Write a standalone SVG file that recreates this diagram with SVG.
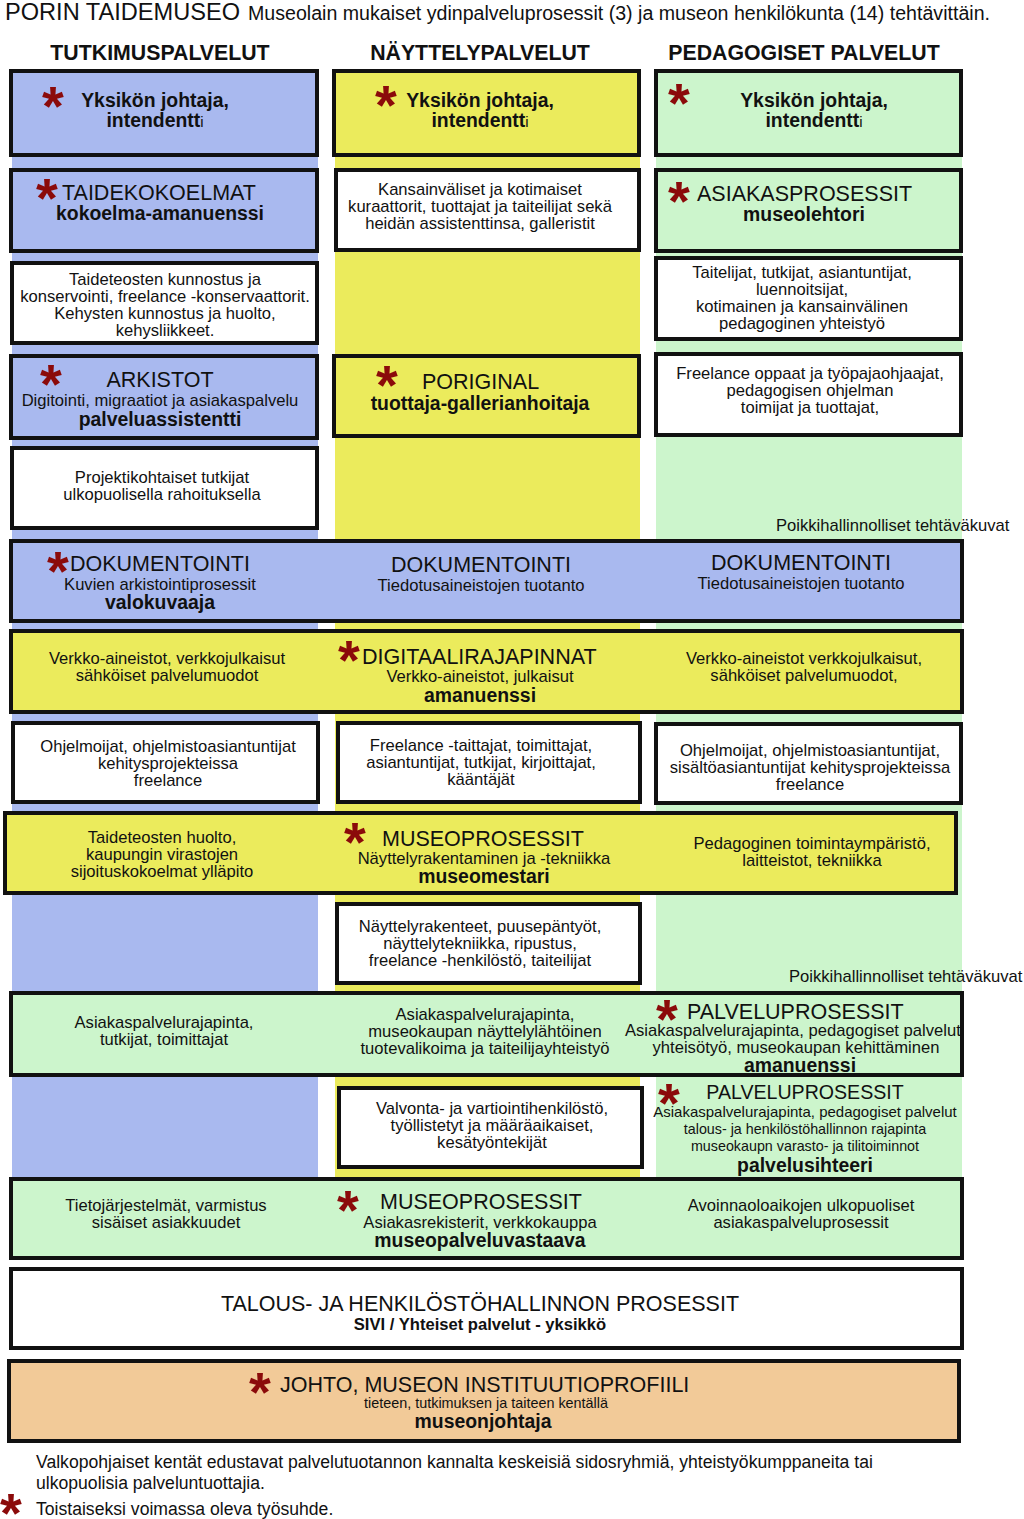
<svg xmlns="http://www.w3.org/2000/svg" width="1024" height="1519" viewBox="0 0 1024 1519">
<style>
text{font-family:"Liberation Sans",Arial,sans-serif;fill:#111}
.t{font-size:16.6px;text-anchor:middle}
.h{font-size:21.5px}
.hc{font-size:21.5px;text-anchor:middle}
.b{font-size:19.4px;font-weight:bold;text-anchor:middle}
.col{font-size:21.3px;font-weight:bold;text-anchor:middle}
.s{font-size:56px;font-weight:bold;fill:#8b0a0a;text-anchor:middle}
.box{stroke:#111;stroke-width:4}
.bl{fill:#a9b9ef}.ye{fill:#ebeb5c}.gr{fill:#ccf5cc}.wh{fill:#fff}.or{fill:#f2ca98}
</style>
<rect width="1024" height="1519" fill="#fff"/>
<g id="title">
<text x="5" y="20" style="font-size:24px" textLength="235" lengthAdjust="spacingAndGlyphs">PORIN TAIDEMUSEO</text>
<text x="248" y="20" style="font-size:19.5px" textLength="742" lengthAdjust="spacingAndGlyphs">Museolain mukaiset ydinpalveluprosessit (3) ja museon henkilökunta (14) tehtävittäin.</text>
</g>
<g id="columns">
<rect x="12" y="70" width="306" height="1108" class="bl"/>
<rect x="335" y="70" width="305" height="1108" class="ye"/>
<rect x="656" y="70" width="306" height="1108" class="gr"/>
<text x="160" y="60" class="col">TUTKIMUSPALVELUT</text>
<text x="480" y="60" class="col">NÄYTTELYPALVELUT</text>
<text x="804" y="60" class="col">PEDAGOGISET PALVELUT</text>
</g>
<g id="connectors"></g>
<g id="n-tut-johtaja">
<rect x="11" y="71" width="306" height="84" class="box bl"/>
<text x="53" y="125" class="s">*</text>
<text x="155" y="107" class="b">Yksikön johtaja,</text>
<text x="155" y="127" class="b">intendentt<tspan style="font-size:15px;font-weight:normal">i</tspan></text>
</g>
<g id="n-nay-johtaja">
<rect x="334" y="71" width="305" height="84" class="box ye"/>
<text x="386" y="124" class="s">*</text>
<text x="480" y="107" class="b">Yksikön johtaja,</text>
<text x="480" y="127" class="b">intendentt<tspan style="font-size:15px;font-weight:normal">i</tspan></text>
</g>
<g id="n-ped-johtaja">
<rect x="656" y="71" width="305" height="84" class="box gr"/>
<text x="679" y="122" class="s">*</text>
<text x="814" y="107" class="b">Yksikön johtaja,</text>
<text x="814" y="127" class="b">intendentt<tspan style="font-size:15px;font-weight:normal">i</tspan></text>
</g>
<g id="n-taidekokoelmat">
<rect x="11" y="170" width="306" height="81" class="box bl"/>
<text x="47" y="217" class="s">*</text>
<text x="62" y="200" class="h">TAIDEKOKOELMAT</text>
<text x="160" y="220" class="b">kokoelma-amanuenssi</text>
</g>
<g id="n-kuraattorit">
<rect x="336" y="170" width="303" height="80" class="box wh"/>
<text x="480" y="195" class="t">Kansainväliset ja kotimaiset</text>
<text x="480" y="212" class="t">kuraattorit, tuottajat ja taiteilijat sekä</text>
<text x="480" y="229" class="t">heidän assistenttinsa, galleristit</text>
</g>
<g id="n-asiakasprosessit">
<rect x="656" y="170" width="305" height="81" class="box gr"/>
<text x="679" y="220" class="s">*</text>
<text x="697" y="201" class="h">ASIAKASPROSESSIT</text>
<text x="804" y="221" class="b">museolehtori</text>
</g>
<g id="n-konservointi">
<rect x="12" y="263" width="305" height="80" class="box wh"/>
<text x="165" y="285" class="t">Taideteosten kunnostus ja</text>
<text x="165" y="302" class="t">konservointi, freelance -konservaattorit.</text>
<text x="165" y="319" class="t">Kehysten kunnostus ja huolto,</text>
<text x="165" y="336" class="t">kehysliikkeet.</text>
</g>
<g id="n-taitelijat">
<rect x="656" y="258" width="305" height="81" class="box wh"/>
<text x="802" y="278" class="t">Taitelijat, tutkijat, asiantuntijat,</text>
<text x="802" y="295" class="t">luennoitsijat,</text>
<text x="802" y="312" class="t">kotimainen ja kansainvälinen</text>
<text x="802" y="329" class="t">pedagoginen yhteistyö</text>
</g>
<g id="n-arkistot">
<rect x="11" y="356" width="306" height="82" class="box bl"/>
<text x="51" y="403" class="s">*</text>
<text x="160" y="387" class="hc">ARKISTOT</text>
<text x="160" y="406" class="t">Digitointi, migraatiot ja asiakaspalvelu</text>
<text x="160" y="426" class="b">palveluassistentti</text>
</g>
<g id="n-poriginal">
<rect x="334" y="356" width="305" height="80" class="box ye"/>
<text x="387" y="404" class="s">*</text>
<text x="422" y="389" class="h">PORIGINAL</text>
<text x="480" y="410" class="b">tuottaja-gallerianhoitaja</text>
</g>
<g id="n-freelance-oppaat">
<rect x="656" y="354" width="305" height="81" class="box wh"/>
<text x="810" y="379" class="t">Freelance oppaat ja työpajaohjaajat,</text>
<text x="810" y="396" class="t">pedagogisen ohjelman</text>
<text x="810" y="413" class="t">toimijat ja tuottajat,</text>
</g>
<g id="n-projektitutkijat">
<rect x="12" y="448" width="305" height="80" class="box wh"/>
<text x="162" y="483" class="t">Projektikohtaiset tutkijat</text>
<text x="162" y="500" class="t">ulkopuolisella rahoituksella</text>
</g>
<text x="776" y="531" style="font-size:16.6px">Poikkihallinnolliset tehtäväkuvat</text>
<g id="n-dokumentointi">
<rect x="11" y="541" width="951" height="80" class="box bl"/>
<text x="58" y="590" class="s">*</text>
<text x="70" y="571" class="h">DOKUMENTOINTI</text>
<text x="160" y="590" class="t">Kuvien arkistointiprosessit</text>
<text x="160" y="609" class="b">valokuvaaja</text>
<text x="481" y="572" class="hc">DOKUMENTOINTI</text>
<text x="481" y="591" class="t">Tiedotusaineistojen tuotanto</text>
<text x="801" y="570" class="hc">DOKUMENTOINTI</text>
<text x="801" y="589" class="t">Tiedotusaineistojen tuotanto</text>
</g>
<g id="n-digitaalirajapinnat">
<rect x="11" y="631" width="951" height="81" class="box ye"/>
<text x="167" y="664" class="t">Verkko-aineistot, verkkojulkaisut</text>
<text x="167" y="681" class="t">sähköiset palvelumuodot</text>
<text x="349" y="679" class="s">*</text>
<text x="362" y="664" class="h">DIGITAALIRAJAPINNAT</text>
<text x="480" y="682" class="t">Verkko-aineistot, julkaisut</text>
<text x="480" y="702" class="b">amanuenssi</text>
<text x="804" y="664" class="t">Verkko-aineistot verkkojulkaisut,</text>
<text x="804" y="681" class="t">sähköiset palvelumuodot,</text>
</g>
<g id="n-ohjelmoijat-tut">
<rect x="13" y="723" width="305" height="79" class="box wh"/>
<text x="168" y="752" class="t">Ohjelmoijat, ohjelmistoasiantuntijat</text>
<text x="168" y="769" class="t">kehitysprojekteissa</text>
<text x="168" y="786" class="t">freelance</text>
</g>
<g id="n-taittajat">
<rect x="338" y="723" width="302" height="79" class="box wh"/>
<text x="481" y="751" class="t">Freelance -taittajat, toimittajat,</text>
<text x="481" y="768" class="t">asiantuntijat, tutkijat, kirjoittajat,</text>
<text x="481" y="785" class="t">kääntäjät</text>
</g>
<g id="n-ohjelmoijat-ped">
<rect x="656" y="724" width="305" height="79" class="box wh"/>
<text x="810" y="756" class="t">Ohjelmoijat, ohjelmistoasiantuntijat,</text>
<text x="810" y="773" class="t">sisältöasiantuntijat kehitysprojekteissa</text>
<text x="810" y="790" class="t">freelance</text>
</g>
<g id="n-museoprosessit-1">
<rect x="5" y="813" width="951" height="80" class="box ye"/>
<text x="162" y="843" class="t">Taideteosten huolto,</text>
<text x="162" y="860" class="t">kaupungin virastojen</text>
<text x="162" y="877" class="t">sijoituskokoelmat ylläpito</text>
<text x="355" y="861" class="s">*</text>
<text x="382" y="846" class="h">MUSEOPROSESSIT</text>
<text x="484" y="864" class="t">Näyttelyrakentaminen ja -tekniikka</text>
<text x="484" y="883" class="b">museomestari</text>
<text x="812" y="849" class="t">Pedagoginen toimintaympäristö,</text>
<text x="812" y="866" class="t">laitteistot, tekniikka</text>
</g>
<g id="n-nayttelyrakenteet">
<rect x="337" y="904" width="303" height="79" class="box wh"/>
<text x="480" y="932" class="t">Näyttelyrakenteet, puusepäntyöt,</text>
<text x="480" y="949" class="t">näyttelytekniikka, ripustus,</text>
<text x="480" y="966" class="t">freelance -henkilöstö, taiteilijat</text>
</g>
<text x="789" y="982" style="font-size:16.6px">Poikkihallinnolliset tehtäväkuvat</text>
<g id="n-palveluprosessit-1">
<rect x="11" y="993" width="951" height="82" class="gr"/>
<text x="164" y="1028" class="t">Asiakaspalvelurajapinta,</text>
<text x="164" y="1045" class="t">tutkijat, toimittajat</text>
<text x="485" y="1020" class="t">Asiakaspalvelurajapinta,</text>
<text x="485" y="1037" class="t">museokaupan näyttelylähtöinen</text>
<text x="485" y="1054" class="t">tuotevalikoima ja taiteilijayhteistyö</text>
<text x="667" y="1038" class="s">*</text>
<text x="687" y="1019" class="h">PALVELUPROSESSIT</text>
<text x="625" y="1036" style="font-size:16.6px">Asiakaspalvelurajapinta, pedagogiset palvelut</text>
<text x="796" y="1053" class="t">yhteisötyö, museokaupan kehittäminen</text>
<text x="800" y="1072" class="b">amanuenssi</text>
<rect x="11" y="993" width="951" height="82" fill="none" class="box"/>
</g>
<g id="n-valvonta">
<rect x="339" y="1088" width="303" height="79" class="box wh"/>
<text x="492" y="1114" class="t">Valvonta- ja vartiointihenkilöstö,</text>
<text x="492" y="1131" class="t">työllistetyt ja määräaikaiset,</text>
<text x="492" y="1148" class="t">kesätyöntekijät</text>
</g>
<g id="n-palveluprosessit-2">
<text x="669" y="1122" class="s">*</text>
<text x="805" y="1099" style="font-size:19.6px;text-anchor:middle">PALVELUPROSESSIT</text>
<text x="805" y="1117" class="t" style="font-size:15px">Asiakaspalvelurajapinta, pedagogiset palvelut</text>
<text x="805" y="1134" class="t" style="font-size:14.3px">talous- ja henkilöstöhallinnon rajapinta</text>
<text x="805" y="1151" class="t" style="font-size:14.3px">museokaupn varasto- ja tilitoiminnot</text>
<text x="805" y="1172" class="b">palvelusihteeri</text>
</g>
<g id="n-museoprosessit-2">
<rect x="11" y="1179" width="951" height="79" class="box gr"/>
<text x="166" y="1211" class="t">Tietojärjestelmät, varmistus</text>
<text x="166" y="1228" class="t">sisäiset asiakkuudet</text>
<text x="348" y="1229" class="s">*</text>
<text x="380" y="1209" class="h">MUSEOPROSESSIT</text>
<text x="480" y="1228" class="t">Asiakasrekisterit, verkkokauppa</text>
<text x="480" y="1247" class="b">museopalveluvastaava</text>
<text x="801" y="1211" class="t">Avoinnaoloaikojen ulkopuoliset</text>
<text x="801" y="1228" class="t">asiakaspalveluprosessit</text>
</g>
<g id="n-talous">
<rect x="11" y="1269" width="951" height="79" class="box wh"/>
<text x="480" y="1311" class="hc">TALOUS- JA HENKILÖSTÖHALLINNON PROSESSIT</text>
<text x="480" y="1330" class="t" style="font-weight:bold">SIVI / Yhteiset palvelut - yksikkö</text>
</g>
<g id="n-johto">
<rect x="9" y="1361" width="950" height="80" class="box or"/>
<text x="260" y="1411" class="s">*</text>
<text x="280" y="1392" class="h">JOHTO, MUSEON INSTITUUTIOPROFIILI</text>
<text x="486" y="1408" class="t" style="font-size:14.4px">tieteen, tutkimuksen ja taiteen kentällä</text>
<text x="483" y="1428" class="b">museonjohtaja</text>
</g>
<g id="legend">
<text x="36" y="1468" style="font-size:17.6px">Valkopohjaiset kentät edustavat palvelutuotannon kannalta keskeisiä sidosryhmiä, yhteistyökumppaneita tai</text>
<text x="36" y="1489" style="font-size:17.6px">ulkopuolisia palveluntuottajia.</text>
<text x="11" y="1532" class="s">*</text>
<text x="36" y="1515" style="font-size:17.6px">Toistaiseksi voimassa oleva työsuhde.</text>
</g>
</svg>
